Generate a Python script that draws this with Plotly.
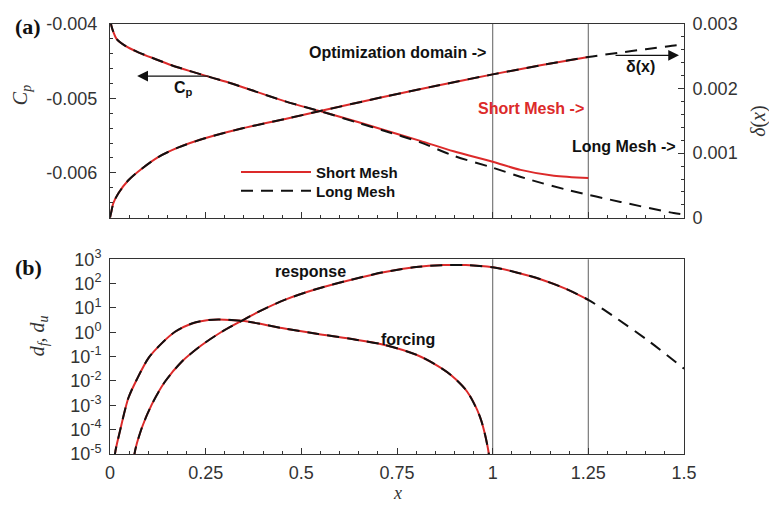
import plotly.graph_objects as go

# ---------------- data ----------------
# (a) pressure coefficient C_p along x (left axis)
x_cp_short = [0.001, 0.004, 0.009, 0.017, 0.039, 0.074, 0.118, 0.161, 0.214, 0.266,
              0.318, 0.371, 0.458, 0.555, 0.65, 0.714, 0.811, 0.898, 1.0, 1.073,
              1.16, 1.25]
cp_short = [-0.00395, -0.00403, -0.00411, -0.00420, -0.00429, -0.00438, -0.00447,
            -0.004554, -0.00464, -0.00472, -0.00480, -0.00489, -0.00504, -0.00518,
            -0.00532, -0.00542, -0.00557, -0.00571, -0.00585, -0.00596, -0.00604,
            -0.00607]
x_cp_long = [0.001, 0.004, 0.009, 0.017, 0.039, 0.074, 0.118, 0.161, 0.214, 0.266,
             0.318, 0.371, 0.458, 0.555, 0.65, 0.714, 0.811, 0.898, 1.0, 1.09,
             1.204, 1.334, 1.473, 1.5]
cp_long = [-0.00395, -0.00403, -0.00411, -0.00420, -0.00429, -0.00438, -0.00447,
           -0.004554, -0.00464, -0.00472, -0.00480, -0.00489, -0.00504, -0.00518,
           -0.00533, -0.00543, -0.00559, -0.00577, -0.00593, -0.00608, -0.00624,
           -0.00639, -0.00654, -0.00656]

# (a) boundary-layer thickness delta(x) (right axis)
x_delta_short = [0.0, 0.003, 0.009, 0.022, 0.048, 0.083, 0.126, 0.179, 0.248, 0.336,
                 0.458, 0.555, 0.714, 0.85, 1.0, 1.125, 1.25]
delta_short = [0.0, 0.00008, 0.00023, 0.00038, 0.00058, 0.00076, 0.00094, 0.00109,
               0.00123, 0.00137, 0.00153, 0.00166, 0.00187, 0.00204, 0.00222,
               0.00236, 0.00249]
x_delta_long = x_delta_short + [1.326, 1.4, 1.48, 1.5]
delta_long = delta_short + [0.00255, 0.00261, 0.00267, 0.00268]

# (b) forcing d_f (identical on both meshes)
x_forcing = [0.011, 0.013, 0.026, 0.048, 0.07, 0.1, 0.135, 0.17, 0.214, 0.257, 0.30,
             0.344, 0.388, 0.449, 0.54, 0.628, 0.715, 0.802, 0.855, 0.89, 0.933,
             0.968, 0.99, 0.993]
d_forcing = [1e-6, 1e-5, 8.7e-5, 2.0e-3, 1.15e-2, 8.5e-2, 0.35, 1.05, 2.3, 3.2, 3.3,
             2.95, 2.3, 1.5, 0.87, 0.54, 0.31, 0.117, 0.043, 0.018, 3.7e-3, 3.0e-4,
             1.0e-5, 1e-6]

# (b) response d_u
x_resp_short = [0.062, 0.064, 0.083, 0.109, 0.144, 0.188, 0.24, 0.292, 0.344, 0.397,
                0.458, 0.54, 0.628, 0.715, 0.80, 0.87, 0.93, 1.0, 1.06, 1.125, 1.19,
                1.25]
d_resp_short = [1e-6, 1e-5, 1.17e-4, 1.07e-3, 9.5e-3, 6.3e-2, 0.30, 1.05, 2.95, 8.1,
                22, 60, 141, 295, 479, 575, 575, 468, 295, 151, 62, 21.4]
x_resp_long = x_resp_short + [1.326, 1.41, 1.497, 1.5]
d_resp_long = d_resp_short + [3.55, 0.41, 0.035, 0.032]

# axis ticks
x_ticks = [0, 0.25, 0.5, 0.75, 1, 1.25, 1.5]
x_tick_text = ["0", "0.25", "0.5", "0.75", "1", "1.25", "1.5"]
cp_ticks = [-0.006, -0.005, -0.004]
cp_tick_text = ["-0.006", "-0.005", "-0.004"]
delta_ticks = [0, 0.001, 0.002, 0.003]
delta_tick_text = ["0", "0.001", "0.002", "0.003"]
d_ticks = [1e-5, 1e-4, 1e-3, 1e-2, 1e-1, 1e0, 1e1, 1e2, 1e3]
d_tick_text = ["10<sup>-5</sup>", "10<sup>-4</sup>", "10<sup>-3</sup>", "10<sup>-2</sup>",
               "10<sup>-1</sup>", "10<sup>0</sup>", "10<sup>1</sup>", "10<sup>2</sup>",
               "10<sup>3</sup>"]
domain_edges = [1.0, 1.25]

# ---------------- styling ----------------
RED = "#dc2a2a"
BLACK = "#111111"
SANS = "Liberation Sans, Arial, sans-serif"
SERIF = "Liberation Serif, Times New Roman, serif"
TICK_FONT = dict(family=SANS, size=18, color="#333333")
LBL_FONT = dict(family=SANS, size=16, color=BLACK)
DASH = "12px,8px"

short_line = dict(color=RED, width=2, shape="spline", smoothing=0.8)
long_line = dict(color=BLACK, width=2, dash=DASH, shape="spline", smoothing=0.8)

fig = go.Figure()

# panel (a)
fig.add_trace(go.Scatter(x=x_cp_short, y=cp_short, mode="lines", line=short_line,
                         name="Short Mesh", legend="legend", xaxis="x", yaxis="y"))
fig.add_trace(go.Scatter(x=x_delta_short, y=delta_short, mode="lines", line=short_line,
                         name="Short Mesh", showlegend=False, xaxis="x", yaxis="y2"))
fig.add_trace(go.Scatter(x=x_cp_long, y=cp_long, mode="lines", line=long_line,
                         name="Long Mesh", legend="legend2", xaxis="x", yaxis="y"))
fig.add_trace(go.Scatter(x=x_delta_long, y=delta_long, mode="lines", line=long_line,
                         name="Long Mesh", showlegend=False, xaxis="x", yaxis="y2"))

# panel (b)
for xs, ys in [(x_forcing, d_forcing), (x_resp_short, d_resp_short)]:
    fig.add_trace(go.Scatter(x=xs, y=ys, mode="lines", line=short_line, showlegend=False,
                             xaxis="x2", yaxis="y3"))
for xs, ys in [(x_forcing, d_forcing), (x_resp_long, d_resp_long)]:
    fig.add_trace(go.Scatter(x=xs, y=ys, mode="lines", line=long_line, showlegend=False,
                             xaxis="x2", yaxis="y3"))

common_x = dict(range=[0, 1.5], tickmode="array", tickvals=x_ticks, ticktext=x_tick_text,
                ticks="inside", ticklen=6, tickcolor="#333", showline=True,
                linecolor="#333", linewidth=1, mirror=True, showgrid=False,
                zeroline=False, tickfont=TICK_FONT,
                minor=dict(tickmode="linear", tick0=0, dtick=0.05, ticks="inside",
                           ticklen=3, tickcolor="#333", showgrid=False))

legend_common = dict(xanchor="left", yanchor="middle", bgcolor="rgba(0,0,0,0)",
                     itemwidth=70, borderwidth=0,
                     font=dict(family=SANS, size=15, color=BLACK, weight="bold"))

fig.update_layout(
    width=769, height=505,
    margin=dict(l=110, r=85, t=19, b=51),
    plot_bgcolor="white", paper_bgcolor="white",
    xaxis=dict(common_x, anchor="y", showticklabels=False),
    xaxis2=dict(common_x, anchor="y3", ticklabelstandoff=2),
    yaxis=dict(domain=[0.5494, 1.0], range=[-0.006603, -0.004], tickmode="array",
               tickvals=cp_ticks, ticktext=cp_tick_text, ticks="inside", ticklen=6,
               tickcolor="#333", showline=True, linecolor="#333", mirror=True,
               showgrid=False, zeroline=False, tickfont=TICK_FONT, ticklabelstandoff=8,
               minor=dict(tickmode="linear", tick0=-0.004, dtick=0.0002, ticks="inside",
                          ticklen=3, tickcolor="#333", showgrid=False)),
    yaxis2=dict(overlaying="y", side="right", anchor="x", range=[0, 0.003],
                tickmode="array", tickvals=delta_ticks, ticktext=delta_tick_text,
                ticks="inside", ticklen=6, tickcolor="#333", showline=True,
                linecolor="#333", showgrid=False, zeroline=False, tickfont=TICK_FONT,
                ticklabelstandoff=4,
                minor=dict(tickmode="linear", tick0=0, dtick=0.0002, ticks="inside",
                           ticklen=3, tickcolor="#333", showgrid=False)),
    yaxis3=dict(domain=[0, 0.4529], type="log", range=[-5, 3], anchor="x2",
                tickmode="array", tickvals=d_ticks, ticktext=d_tick_text,
                ticks="inside", ticklen=6, tickcolor="#333", showline=True,
                linecolor="#333", mirror=True, showgrid=False, zeroline=False,
                tickfont=TICK_FONT, ticklabelstandoff=4),
    legend=dict(legend_common, x=(236 - 110) / 574, y=1 - (169 - 19) / 435),
    legend2=dict(legend_common, x=(236 - 110) / 574, y=1 - (188 - 19) / 435),
    showlegend=True,
)

# optimisation-domain boundaries
shapes = []
for xv in domain_edges:
    for xr, yr in [("x", "y domain"), ("x2", "y3 domain")]:
        shapes.append(dict(type="line", xref=xr, yref=yr, x0=xv, x1=xv, y0=0, y1=1,
                           line=dict(color="#7a7a7a", width=1.2), layer="below"))
fig.update_layout(shapes=shapes)

ann = []
# arrows pointing to the axis each curve belongs to
ann.append(dict(x=0.071, y=-0.0047, xref="x", yref="y", ax=73, ay=0, text="",
                showarrow=True, arrowhead=2, arrowsize=1.8, arrowwidth=1.2,
                arrowcolor=BLACK))
ann.append(dict(x=1.487, y=0.002515, xref="x", yref="y2", ax=-65, ay=0, text="",
                showarrow=True, arrowhead=2, arrowsize=1.8, arrowwidth=1.2,
                arrowcolor=BLACK))
ann.append(dict(x=0.191, y=-0.00486, xref="x", yref="y", showarrow=False,
                text="<b>C<sub>p</sub></b>", font=LBL_FONT))
ann.append(dict(x=1.387, y=0.00234, xref="x", yref="y2", showarrow=False,
                text="<b>δ(x)</b>", font=LBL_FONT))
ann.append(dict(x=0.751, y=-0.00438, xref="x", yref="y", showarrow=False,
                text="<b>Optimization domain -></b>", font=LBL_FONT))
ann.append(dict(x=1.099, y=-0.005137, xref="x", yref="y", showarrow=False,
                text="<b>Short Mesh -></b>", font=dict(LBL_FONT, color=RED)))
ann.append(dict(x=1.343, y=-0.005643, xref="x", yref="y", showarrow=False,
                text="<b>Long Mesh -></b>", font=LBL_FONT))
ann.append(dict(x=0.523, y=2.51, xref="x2", yref="y3", showarrow=False,
                text="<b>response</b>", font=LBL_FONT))
ann.append(dict(x=0.78, y=-0.31, xref="x2", yref="y3", showarrow=False,
                text="<b>forcing</b>", font=LBL_FONT))

# panel tags and axis titles, placed in paper coordinates
def px(xp, yp):
    return (xp - 110) / 574, 1 - (yp - 19) / 435

for text, (xp, yp), font, angle, yanc in [
    ("<b>(a)</b>", (28, 22), dict(family=SERIF, size=22, color=BLACK), 0, "middle"),
    ("<b>(b)</b>", (28, 265), dict(family=SERIF, size=22, color=BLACK), 0, "middle"),
    ("<i>C<sub>p</sub></i>", (21, 91), dict(family=SERIF, size=20, color="#333"), -90,
     "middle"),
    ("<i>δ</i>(<i>x</i>)", (759, 117), dict(family=SERIF, size=20, color="#333"), -90,
     "middle"),
    ("<i>d<sub>f</sub></i>, <i>d<sub>u</sub></i>", (38, 335),
     dict(family=SERIF, size=20, color="#333"), -90, "middle"),
    ("<i>x</i>", (397, 505), dict(family=SERIF, size=18, color="#333"), 0, "bottom"),
]:
    xx, yy = px(xp, yp)
    ann.append(dict(x=xx, y=yy, xref="paper", yref="paper", text=text, font=font,
                    textangle=angle, showarrow=False, xanchor="center",
                    yanchor=yanc, borderpad=0))

fig.update_layout(annotations=ann)

fig.write_html("out.html")
